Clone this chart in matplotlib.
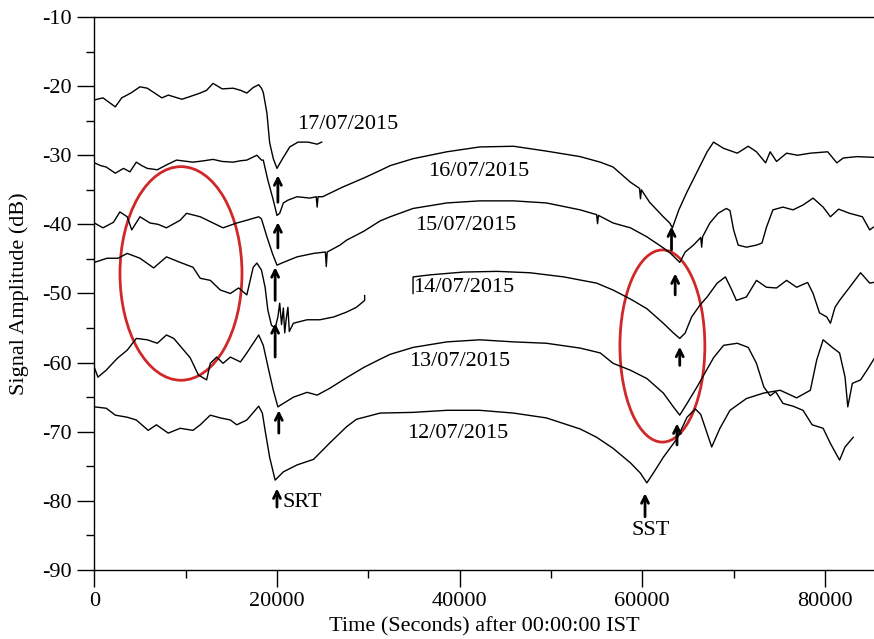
import matplotlib
matplotlib.use("Agg")
import matplotlib.pyplot as plt
from matplotlib.patches import Ellipse
from matplotlib.ticker import MultipleLocator

plt.rcParams['font.family'] = ['Liberation Serif', 'DejaVu Serif']
plt.rcParams['axes.unicode_minus'] = False

# VLF signal amplitude traces (time in s, amplitude in dB)
t17_x = [0, 950, 2300, 3000, 4000, 5000, 5800, 6600, 7400, 8100, 9600, 10500, 11600,
	12300, 13000, 14000, 15200, 16000, 16700, 17400, 18000, 18300, 18500, 18900, 19200,
	19600, 20000, 20300, 20700, 21400, 22300, 23400, 24400, 24900]
t17_y = [-22.0, -21.7, -23.0, -21.7, -21.0, -20.1, -20.3, -21.0, -21.7, -21.3, -21.9, -21.5, -21.0,
	-20.6, -19.6, -20.4, -20.3, -20.6, -21.0, -20.2, -19.8, -20.3, -20.9, -23.9, -28.2,
	-30.5, -31.9, -31.2, -30.3, -28.8, -28.1, -28.1, -28.4, -28.1]

t16_x = [0, 700, 1300, 2300, 3200, 3900, 4600, 5200, 5800, 6900, 7900, 9000, 10800,
	12000, 13000, 14000, 15200, 16000, 16700, 17800, 18300, 18500, 19000, 19600, 20000,
	20300, 20700, 21200, 22200, 23600, 24300, 24400, 24500, 25000, 27200, 29500, 31300,
	32400, 34900, 38600, 42200, 45900, 49500, 53200, 55400, 56800, 58700, 59700, 59800,
	59900, 60800, 62300, 63000, 63300, 64000, 64900, 66000, 67100, 67800, 68900, 70400,
	71600, 72500, 73500, 74000, 74700, 75800, 77000, 78400, 80300, 81300, 82000, 83500, 85300]
t16_y = [-31.1, -31.5, -31.7, -32.6, -31.9, -32.4, -31.0, -31.5, -31.9, -32.1, -31.4, -30.7, -31.0,
	-30.8, -30.6, -30.9, -31.0, -30.8, -30.7, -30.0, -30.7, -30.7, -33.6, -36.5, -38.7,
	-38.4, -36.9, -36.5, -36.0, -36.2, -36.0, -37.5, -36.0, -36.0, -34.6, -33.3, -32.2,
	-31.5, -30.5, -29.5, -28.8, -28.7, -29.4, -30.2, -31.0, -31.7, -33.9, -34.8, -36.3,
	-35.0, -36.8, -38.9, -39.8, -40.5, -37.9, -35.3, -32.4, -29.5, -28.1, -29.0, -29.7,
	-28.7, -29.5, -31.1, -29.5, -30.9, -29.7, -30.0, -29.7, -29.5, -31.1, -30.4, -30.2, -30.3]

t15_x = [0, 950, 2100, 2800, 3600, 4100, 5000, 6100, 7000, 7900, 9400, 10100, 11600,
	13000, 14100, 15600, 16700, 18000, 18300, 18900, 19500, 20000, 20700, 22200, 24000,
	25300, 25400, 25500, 26900, 27600, 29500, 31300, 32400, 34900, 38600, 42200, 45900,
	49500, 53200, 55000, 55100, 55200, 56800, 58700, 60500, 62300, 63100, 64100, 64700,
	65600, 66400, 66500, 66600, 67400, 68300, 69200, 69600, 70000, 70500, 71400, 72500,
	73100, 73600, 74300, 75400, 76500, 77600, 78700, 79800, 80600, 81500, 82700, 84100,
	84900, 85300]
t15_y = [-39.8, -40.5, -39.7, -38.2, -38.9, -40.8, -38.9, -39.8, -40.0, -40.5, -39.4, -38.4, -38.9,
	-39.8, -40.5, -39.8, -39.4, -38.9, -39.2, -41.8, -44.2, -45.9, -45.5, -44.7, -44.2,
	-44.0, -46.1, -44.0, -43.0, -42.3, -41.0, -39.5, -38.9, -37.7, -36.9, -36.6, -36.6,
	-36.9, -37.9, -38.6, -39.9, -38.7, -39.8, -40.5, -41.8, -43.4, -44.2, -45.5, -44.0,
	-43.0, -41.9, -43.3, -41.8, -39.8, -38.4, -37.7, -38.0, -40.8, -43.0, -43.3, -43.0,
	-42.7, -40.4, -37.9, -37.5, -37.9, -37.2, -36.2, -37.5, -38.9, -37.8, -38.4, -38.9,
	-40.8, -40.4]

# 14/07 has a gap in the recording
t14a_x = [0, 1400, 2600, 3600, 5000, 6500, 7900, 9400, 10800, 11600, 12700, 13800, 14900,
	15800, 16700, 17400, 17800, 18300, 18700, 19000, 19400, 19800, 20100, 20300, 20500,
	20700, 20850, 21000, 21200, 21350, 21800, 23300, 24700, 26200, 27600, 28700, 29600, 29600]
t14a_y = [-45.5, -44.9, -44.9, -44.2, -44.9, -46.3, -44.7, -45.5, -46.2, -47.8, -48.1, -49.5, -50.0,
	-49.2, -50.2, -46.2, -45.6, -46.6, -49.1, -52.4, -54.6, -55.0, -53.4, -51.4, -54.5,
	-52.1, -55.7, -53.8, -52.0, -55.5, -54.3, -53.8, -53.8, -53.4, -52.7, -52.0, -51.0, -50.3]
t14b_x = [34900, 34900, 36800, 40400, 44100, 47700, 51400, 55000, 56800, 58700, 60500, 62300,
	63400, 64100, 64700, 65400, 66300, 67100, 68200, 69100, 69800, 70300, 71400, 72500,
	73600, 74700, 75800, 76900, 78100, 78700, 79400, 80200, 80600, 81100, 81600, 82700,
	83900, 84900, 85300]
t14b_y = [-50.0, -47.6, -47.3, -46.9, -46.8, -47.0, -47.6, -48.5, -49.5, -50.8, -52.2, -54.3,
	-55.7, -56.5, -55.7, -53.4, -51.7, -50.5, -48.5, -47.6, -49.5, -51.0, -50.5, -48.1,
	-49.1, -49.2, -48.1, -49.1, -48.4, -50.0, -52.8, -53.4, -54.3, -52.0, -51.0, -49.1,
	-47.0, -48.5, -48.4]

t13_x = [0, 400, 1300, 2500, 3600, 4600, 5800, 6900, 7900, 8700, 9600, 10500, 11400,
	12300, 12700, 13400, 14100, 14900, 16000, 16700, 18000, 18500, 19100, 19600, 20100,
	20700, 21800, 23300, 24400, 25800, 27600, 29500, 31300, 32400, 34900, 38600, 42200,
	45900, 49500, 53200, 55400, 56800, 58700, 60500, 62300, 63400, 64100, 64900, 66000,
	66900, 67800, 68900, 70400, 71600, 72500, 73300, 74000, 74600, 75400, 76500, 77600,
	78600, 79800, 80600, 81600, 82200, 83100]
t13_y = [-60.7, -62.1, -61.1, -59.4, -58.2, -56.5, -56.7, -57.2, -56.0, -56.5, -57.9, -59.3, -61.8,
	-62.5, -60.1, -59.2, -60.1, -59.2, -59.9, -58.6, -56.0, -57.5, -61.1, -64.0, -66.4,
	-65.9, -65.0, -64.3, -64.7, -63.7, -62.2, -60.7, -59.5, -58.8, -57.8, -57.0, -56.7,
	-57.0, -57.2, -57.9, -58.6, -60.1, -61.1, -62.3, -64.4, -66.4, -67.6, -65.9, -63.5,
	-61.4, -59.3, -57.5, -57.2, -57.8, -60.1, -63.5, -64.8, -64.2, -65.9, -66.3, -66.9,
	-69.0, -69.5, -71.7, -74.1, -72.2, -70.8]

t12_x = [0, 1300, 2300, 3600, 4600, 5900, 6800, 8100, 9400, 10800, 11600, 12700, 13800,
	14900, 15600, 16700, 18000, 18400, 18700, 19200, 19800, 20700, 22200, 24000, 25800,
	27600, 28700, 31300, 34900, 38600, 42200, 45900, 49500, 53200, 55000, 56800, 58700,
	59800, 60500, 61200, 62300, 63800, 64900, 65800, 66400, 67600, 68500, 69600, 71400,
	73300, 75100, 76900, 78400, 79100, 79800, 80900, 81600, 82200, 82500, 83000, 83900,
	84600, 85400]
t12_y = [-66.4, -66.6, -67.6, -67.9, -68.3, -69.8, -69.0, -70.2, -69.5, -69.8, -69.0, -67.6, -68.0,
	-68.3, -69.0, -68.3, -66.3, -67.3, -69.8, -73.7, -77.0, -75.8, -74.8, -74.0, -71.6,
	-69.3, -68.2, -67.3, -67.2, -66.9, -66.9, -67.3, -68.0, -69.6, -70.8, -72.4, -74.5,
	-76.0, -77.4, -76.0, -73.7, -71.0, -67.9, -66.7, -67.5, -72.2, -69.5, -66.9, -65.2,
	-64.4, -64.0, -65.1, -64.0, -59.6, -56.7, -57.9, -58.6, -62.1, -66.4, -63.0, -62.5,
	-61.1, -59.4]

dates = ["17/07/2015", "16/07/2015", "15/07/2015", "14/07/2015", "13/07/2015", "12/07/2015"]
date_x = [27700, 42100, 40700, 40400, 40000, 39800]
date_y = [-25.5, -32.4, -40.1, -49.1, -59.9, -70.2]

# sunrise / sunset terminator arrows: x, head, tail
srt_x = [20100, 20100, 19800, 19800, 20200, 20000]
srt_head = [-32.9, -39.7, -46.2, -54.3, -66.9, -78.2]
srt_tail = [-36.8, -43.4, -51.0, -59.2, -70.2, -80.9]
sst_x = [63200, 63600, 64100, 63800, 60300]
sst_head = [-40.3, -47.1, -57.7, -68.8, -78.9]
sst_tail = [-43.7, -50.2, -60.4, -71.9, -82.3]

fig = plt.figure(figsize=(8.74, 6.39), dpi=100)
ax = fig.add_axes([0.1079, 0.108, 0.8921, 0.8654])

for xs, ys in [(t17_x, t17_y), (t16_x, t16_y), (t15_x, t15_y), (t14a_x, t14a_y),
		(t14b_x, t14b_y), (t13_x, t13_y), (t12_x, t12_y)]:
	ax.plot(xs, ys, color="black", lw=1.0)

for d, x, y in zip(dates, date_x, date_y):
	ax.text(x, y, d, ha="center", va="center", fontsize=16)

for x, h, t in zip(srt_x + sst_x, srt_head + sst_head, srt_tail + sst_tail):
	ax.annotate("", xy=(x, h), xytext=(x, t),
		arrowprops=dict(arrowstyle="->,head_length=0.5,head_width=0.25", lw=2.0, color="black",
			shrinkA=0, shrinkB=0))
ax.text(20650, -80.2, "SRT", ha="left", va="center", fontsize=16)
ax.text(60950, -84.3, "SST", ha="center", va="center", fontsize=16)

# highlighted regions
ax.add_patch(Ellipse((9490, -47.1), 13360, 30.9, fill=False, ec="#d02828", lw=2.0))
ax.add_patch(Ellipse((62200, -57.6), 9300, 27.8, fill=False, ec="#d02828", lw=2.0))

ax.set_xlim(0, 85370)
ax.set_ylim(-90, -10)
ax.xaxis.set_major_locator(MultipleLocator(20000))
ax.xaxis.set_minor_locator(MultipleLocator(10000))
ax.yaxis.set_major_locator(MultipleLocator(10))
ax.yaxis.set_minor_locator(MultipleLocator(5))
ax.tick_params(which="major", direction="out", length=12, width=1, labelsize=16, pad=4)
ax.tick_params(which="minor", direction="out", length=6, width=1)
ax.spines['right'].set_visible(False)
for s in ['left', 'bottom', 'top']:
	ax.spines[s].set_linewidth(1.0)
ax.set_xlabel("Time (Seconds) after 00:00:00 IST", fontsize=16, labelpad=4)
ax.set_ylabel("Signal Amplitude (dB)", fontsize=16, labelpad=10)

fig.savefig("out.png", dpi=100)
